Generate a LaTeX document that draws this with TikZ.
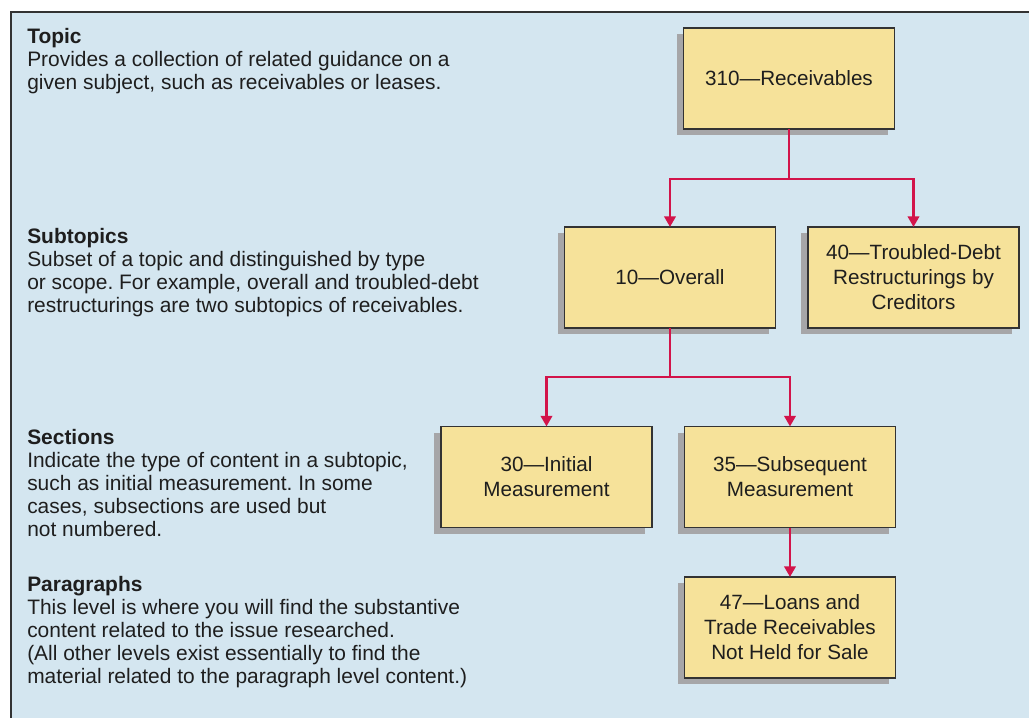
\documentclass[tikz,border=0pt]{standalone}
\usepackage{fontspec}
\setmainfont{Liberation Sans}
\usetikzlibrary{arrows.meta,shadows,calc}
\definecolor{panelbg}{HTML}{D4E6F0}
\definecolor{boxfill}{HTML}{F6E29A}
\definecolor{shadowgray}{HTML}{A6A6A8}
\definecolor{linkred}{HTML}{D2144A}
\definecolor{edgegray}{HTML}{333333}
\definecolor{textdark}{HTML}{1E1E1E}
\frenchspacing
\begin{document}
\begin{tikzpicture}[x=0.75pt,y=-0.75pt,
  levelbox/.style={draw=edgegray, line width=1.1pt, fill=boxfill,
    minimum width=158.25pt, minimum height=75.75pt, inner sep=2pt, outer sep=0pt,
    align=center, text=textdark, font=\fontsize{15.5}{18.75}\selectfont,
    general shadow={fill=shadowgray, shadow xshift=-5.25pt, shadow yshift=-4.5pt}},
  desc/.style={anchor=base west, align=left, inner sep=0pt, text=textdark,
    font=\fontsize{15.7}{17.25}\selectfont},
  link/.style={draw=linkred, line width=2.2pt, -{Triangle[width=8.5pt,length=8pt]}},
  linkplain/.style={draw=linkred, line width=2.2pt}]
\useasboundingbox (0,0) rectangle (1029,718);
\fill[panelbg] (11,12) rectangle (1029,718);
\draw[edgegray, line width=1.1pt] (11,718) -- (11,12) -- (1029,12);

% left descriptions (anchored at the baseline of their last line)
\node[desc] (dtopic) at (27,89) {\textbf{Topic}\\Provides a collection of related guidance on a\\given subject, such as receivables or leases.};
\node[desc] (dsub) at (27,312) {\textbf{Subtopics}\\Subset of a topic and distinguished by type\\or scope. For example, overall and troubled-debt\\restructurings are two subtopics of receivables.};
\node[desc] (dsec) at (27,536) {\textbf{Sections}\\Indicate the type of content in a subtopic,\\such as initial measurement. In some\\cases, subsections are used but\\not numbered.};
\node[desc] (dpar) at (27,683) {\textbf{Paragraphs}\\This level is where you will find the substantive\\content related to the issue researched.\\(All other levels exist essentially to find the\\material related to the paragraph level content.)};

% boxes
\node[levelbox] (rec) at (789,78.5) {310---Receivables};
\node[levelbox] (ovr) at (670,277.5) {10---Overall};
\node[levelbox] (tdr) at (913.5,277.5) {40---Troubled-Debt\\Restructurings by\\Creditors};
\node[levelbox] (ini) at (546.5,477) {30---Initial\\Measurement};
\node[levelbox] (sub) at (790,477) {35---Subsequent\\Measurement};
\node[levelbox] (lns) at (790,627.5) {47---Loans and\\Trade Receivables\\Not Held for Sale};

% connectors
\coordinate (j1) at ($(rec.south)+(0,50)$);
\coordinate (j2) at ($(ovr.south)+(0,49)$);
\draw[linkplain] (rec.south) -- (j1);
\draw[link] (j1) -| (ovr.north);
\draw[link] (j1) -| (tdr.north);
\draw[linkplain] (ovr.south) -- (j2);
\draw[link] (j2) -| (ini.north);
\draw[link] (j2) -| (sub.north);
\draw[link] (sub.south) -- (lns.north);
\end{tikzpicture}
\end{document}
